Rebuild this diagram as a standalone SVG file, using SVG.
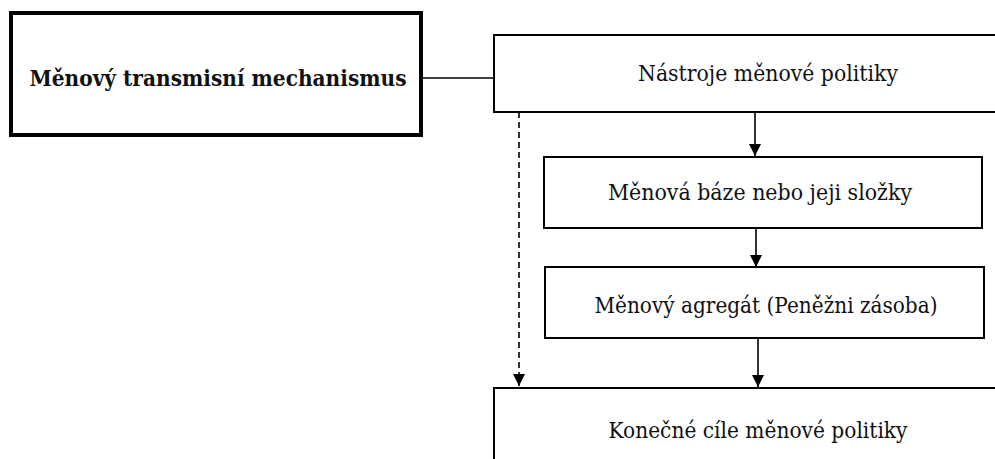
<svg xmlns="http://www.w3.org/2000/svg" width="995" height="459" viewBox="0 0 995 459">
<defs>
<style>
.box{fill:#fff;stroke:#000;stroke-width:2}
.thick{fill:#fff;stroke:#000;stroke-width:4}
.t{font-family:"DejaVu Serif","Liberation Serif","Noto Serif",serif;font-size:22px;fill:#111;text-anchor:middle}
.tb{font-family:"DejaVu Serif","Liberation Serif","Noto Serif",serif;font-size:23px;font-weight:bold;fill:#111;text-anchor:middle}
.c{fill:none;stroke:#000;stroke-width:1.6}
.d{stroke-dasharray:6,4}
</style>
<marker id="ahv" markerUnits="userSpaceOnUse" markerWidth="12" markerHeight="13" refX="12" refY="6" orient="auto" viewBox="0 0 12 12">
<path d="M0,0 L12,6 L0,12 Z" fill="#000"/>
</marker>
</defs>
<rect width="995" height="459" fill="#fff"/>
<g id="connectors">
<line class="c" x1="423" y1="78" x2="494" y2="78"/>
<line class="c" x1="755" y1="112" x2="755" y2="156" marker-end="url(#ahv)"/>
<line class="c" x1="756" y1="228" x2="756" y2="267" marker-end="url(#ahv)"/>
<line class="c" x1="758" y1="338" x2="758" y2="387" marker-end="url(#ahv)"/>
<line class="c d" x1="519" y1="112" x2="519" y2="386" marker-end="url(#ahv)"/>
</g>
<g id="n-mechanismus">
<rect class="thick" x="11" y="13" width="410" height="122"/>
<text class="tb" x="218" y="86" textLength="377" lengthAdjust="spacingAndGlyphs">Měnový transmisní mechanismus</text>
</g>
<g id="n-nastroje">
<rect class="box" x="494" y="35" width="510" height="77"/>
<text class="t" x="768" y="81" textLength="260" lengthAdjust="spacingAndGlyphs">Nástroje měnové politiky</text>
</g>
<g id="n-baze">
<rect class="box" x="544" y="157" width="438" height="71"/>
<text class="t" x="760" y="200" textLength="304" lengthAdjust="spacingAndGlyphs">Měnová báze nebo jeji složky</text>
</g>
<g id="n-agregat">
<rect class="box" x="545" y="267" width="439" height="71"/>
<text class="t" x="766" y="313" textLength="343" lengthAdjust="spacingAndGlyphs">Měnový agregát (Peněžni zásoba)</text>
</g>
<g id="n-cile">
<rect class="box" x="494" y="388" width="510" height="80"/>
<text class="t" x="758" y="438" textLength="299" lengthAdjust="spacingAndGlyphs">Konečné cíle měnové politiky</text>
</g>
</svg>
